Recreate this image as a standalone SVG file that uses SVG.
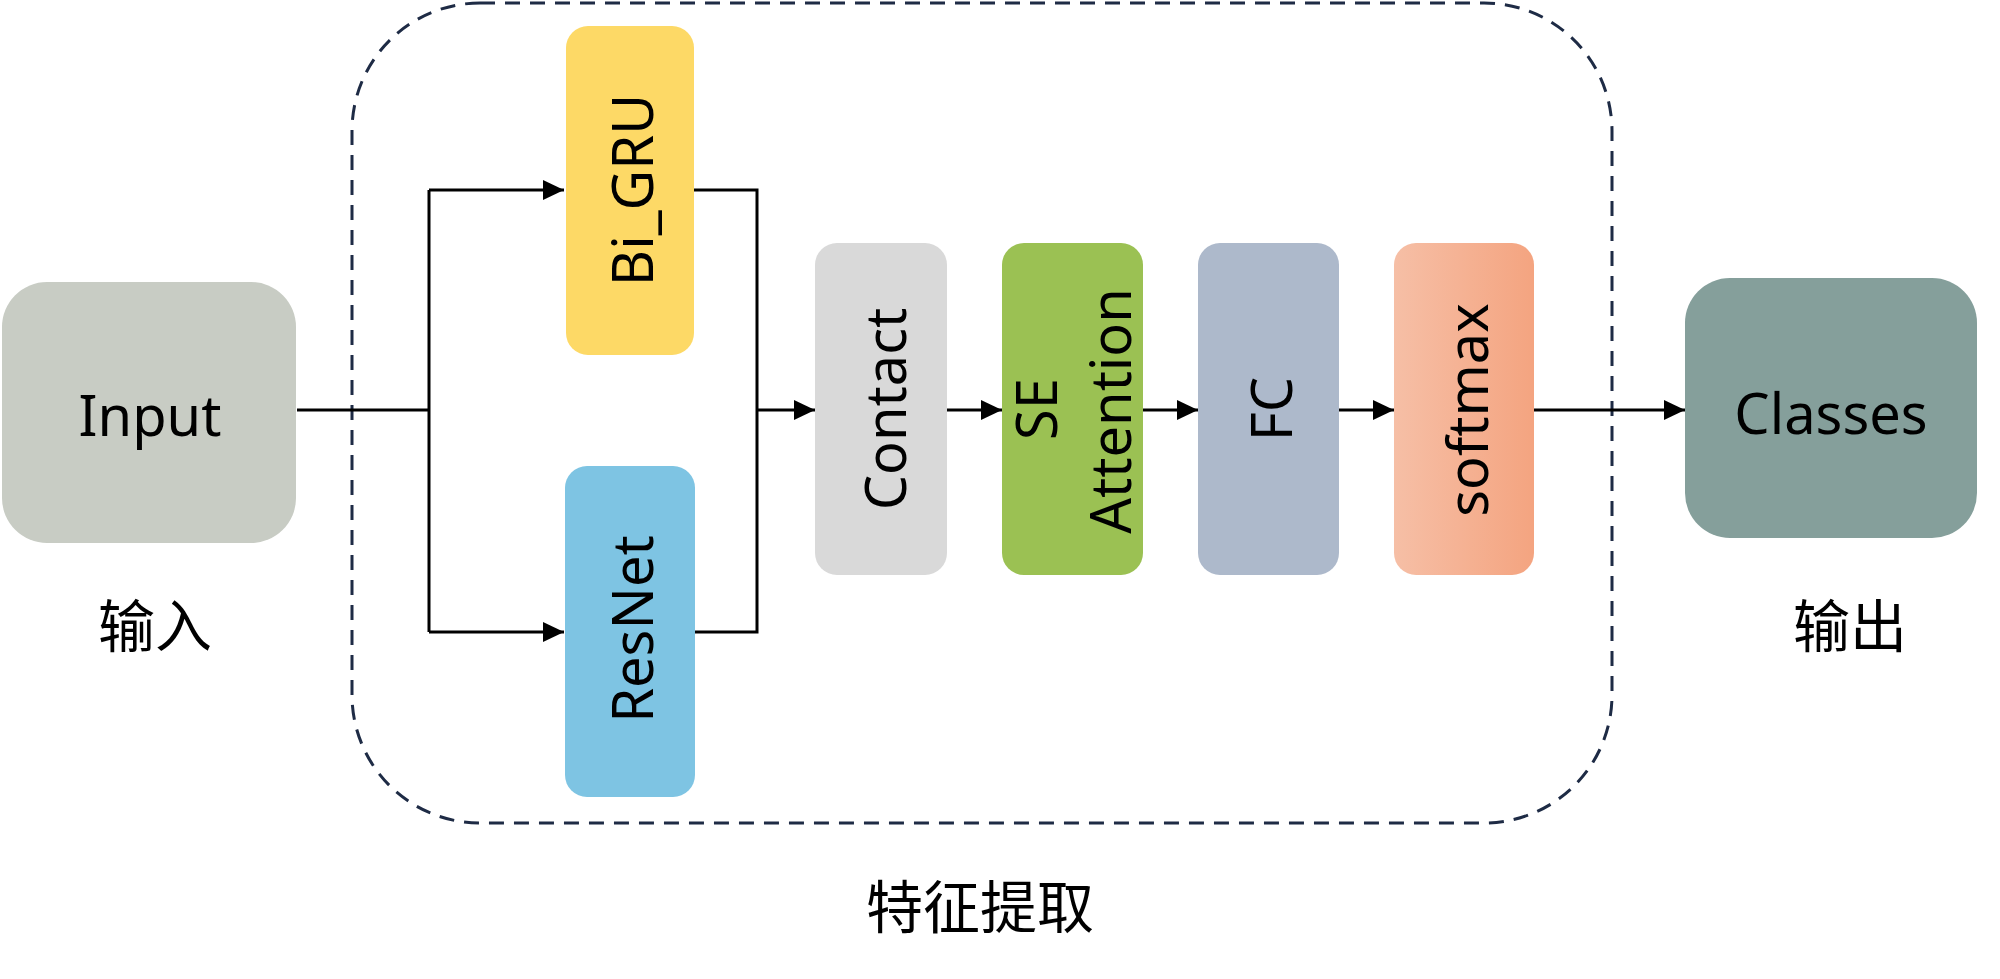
<svg xmlns="http://www.w3.org/2000/svg" width="2000" height="979" viewBox="0 0 2000 979">
<style>
.lbl{font-family:"Noto Sans","Open Sans","DejaVu Sans",sans-serif;font-size:56px;fill:#000;text-anchor:middle}
.cjk{font-family:"Noto Sans CJK SC","Noto Sans",sans-serif;font-size:57px;fill:#000;text-anchor:middle}
.conn{fill:none;stroke:#000;stroke-width:3}
.arr{marker-end:url(#ah)}
</style>
<defs>
<marker id="ah" markerUnits="userSpaceOnUse" markerWidth="22" markerHeight="22" refX="21" refY="10" orient="auto" viewBox="0 0 22 20">
<path d="M0,0 L21,10 L0,20 z" fill="#000"/>
</marker>
<linearGradient id="gsm" x1="0" y1="0" x2="1" y2="0">
<stop offset="0" stop-color="#F6BFA6"/>
<stop offset="1" stop-color="#F4A480"/>
</linearGradient>
</defs>
<rect width="2000" height="979" fill="#fff"/>
<g id="feature-extraction">
<rect x="352" y="3" width="1260" height="820" rx="128" ry="128" fill="none" stroke="#1E2B45" stroke-width="3" stroke-dasharray="15 10"/>
<text class="cjk" x="980" y="928">特征提取</text>
</g>
<g id="connectors">
<path class="conn" d="M297,410 H429"/>
<path class="conn" d="M429,190 V632"/>
<path class="conn arr" d="M429,190 H564"/>
<path class="conn arr" d="M429,632 H564"/>
<path class="conn" d="M694,190 H757 V632 H695"/>
<path class="conn arr" d="M757,410 H815"/>
<path class="conn arr" d="M947,410 H1002"/>
<path class="conn arr" d="M1143,410 H1198"/>
<path class="conn arr" d="M1339,410 H1394"/>
<path class="conn arr" d="M1534,410 H1685"/>
</g>
<g id="input">
<rect x="2" y="282" width="294" height="261" rx="45" fill="#C8CCC4"/>
<text class="lbl" x="150" y="436">Input</text>
<text class="cjk" x="155" y="647">输入</text>
</g>
<g id="bigru">
<rect x="566" y="26" width="128" height="329" rx="22" fill="#FDD966"/>
<text class="lbl" transform="translate(653,190) rotate(-90)">Bi_GRU</text>
</g>
<g id="resnet">
<rect x="565" y="466" width="130" height="331" rx="22" fill="#7EC4E3"/>
<text class="lbl" transform="translate(653,629) rotate(-90)">ResNet</text>
</g>
<g id="contact">
<rect x="815" y="243" width="132" height="332" rx="22" fill="#D9D9D9"/>
<text class="lbl" transform="translate(906,409) rotate(-90)">Contact</text>
</g>
<g id="se-attention">
<rect x="1002" y="243" width="141" height="332" rx="22" fill="#9BC153"/>
<text class="lbl" transform="translate(1057,409) rotate(-90)">SE</text>
<text class="lbl" transform="translate(1131,411) rotate(-90)">Attention</text>
</g>
<g id="fc">
<rect x="1198" y="243" width="141" height="332" rx="22" fill="#ADB9CB"/>
<text class="lbl" transform="translate(1292,409) rotate(-90)">FC</text>
</g>
<g id="softmax">
<rect x="1394" y="243" width="140" height="332" rx="22" fill="url(#gsm)"/>
<text class="lbl" transform="translate(1488,410) rotate(-90)">softmax</text>
</g>
<g id="classes">
<rect x="1685" y="278" width="292" height="260" rx="45" fill="#859F9B"/>
<text class="lbl" x="1831" y="434">Classes</text>
<text class="cjk" x="1850" y="647">输出</text>
</g>
</svg>
